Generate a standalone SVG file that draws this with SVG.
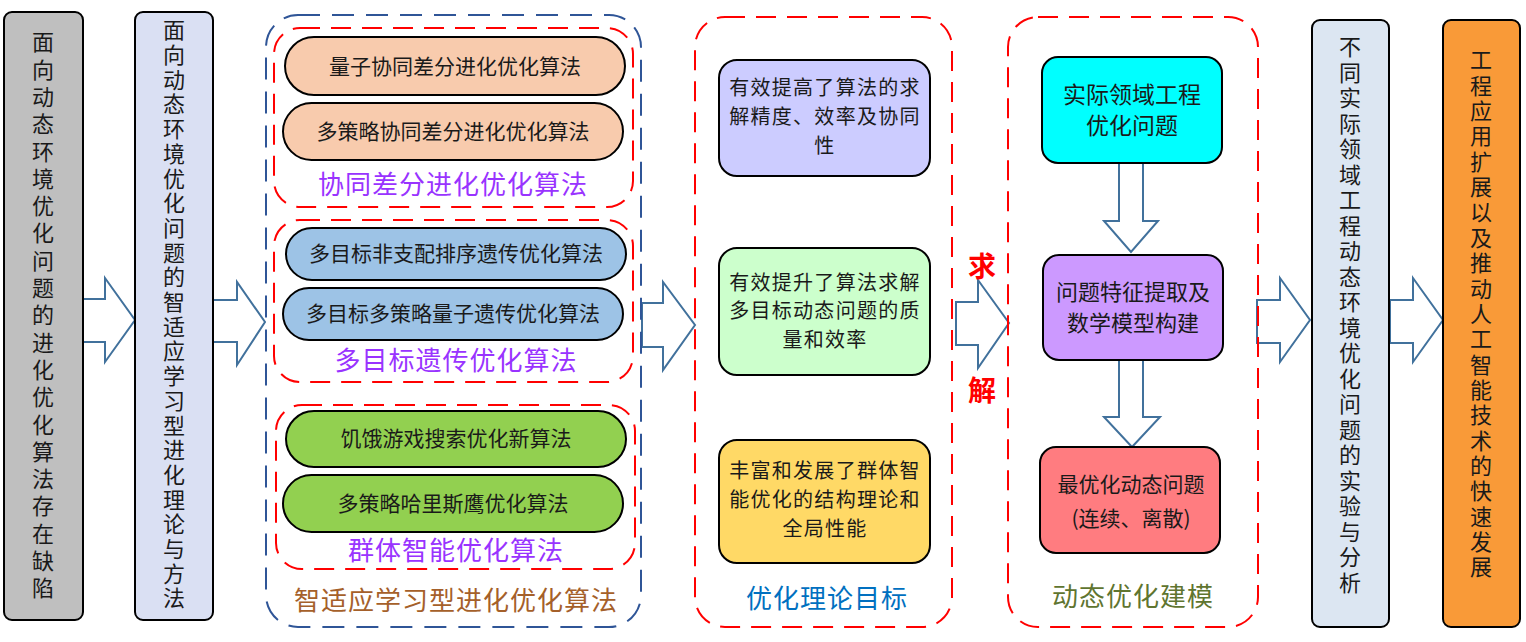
<svg xmlns="http://www.w3.org/2000/svg" width="1526" height="642" viewBox="0 0 1526 642">
<defs>
<style>
text{font-family:"Noto Sans CJK SC","Liberation Sans",sans-serif;fill:#1a1a1a;}
.box{stroke:#000;stroke-width:2;}
.vt{font-size:22px;writing-mode:tb;text-orientation:upright;}
.pill{stroke:#000;stroke-width:2;}
.pt{font-size:21px;text-anchor:middle;}
.gt{font-size:20px;text-anchor:middle;letter-spacing:1.3px;}
.red{fill:none;stroke:#ff0000;stroke-width:2;stroke-dasharray:20 11;}
.blue{fill:none;stroke:#2f5597;stroke-width:2;stroke-dasharray:22 12;}
.arr{fill:#fff;stroke:#41719c;stroke-width:2;stroke-linejoin:miter;}
.lbl{font-size:26px;text-anchor:middle;letter-spacing:1px;}
</style>
</defs>

<g id="connectors">
<polygon class="arr" points="83,299 105,299 105,278 135,320 105,362 105,342 83,342"/>
<polygon class="arr" points="213,300 237,300 237,282 265,322 237,365 237,342 213,342"/>
<polygon class="arr" points="642,303 663,303 663,282 695,325 663,370 663,347 642,347"/>
<polygon class="arr" points="956,302 978,302 978,280 1009,323 978,368 978,345 956,345"/>
<polygon class="arr" points="1119,163 1143,163 1143,221 1158,221 1131,252 1104,221 1119,221"/>
<polygon class="arr" points="1119,360 1143,360 1143,417 1160,417 1132,447 1104,417 1119,417"/>
<polygon class="arr" points="1257,300 1280,300 1280,278 1310,320 1280,362 1280,343 1257,343"/>
<polygon class="arr" points="1390,300 1413,300 1413,278 1443,320 1413,362 1413,343 1390,343"/>
</g>

<g id="n1">
<rect class="box" x="4" y="12" width="79" height="608" rx="8" fill="#bfbfbf"/>
<text class="vt" x="43" y="31" style="letter-spacing:5.3px">面向动态环境优化问题的进化优化算法存在缺陷</text>
</g>

<g id="n2">
<rect class="box" x="135" y="12" width="78" height="608" rx="8" fill="#dae0f3"/>
<text class="vt" x="174" y="19" style="letter-spacing:2.7px">面向动态环境优化问题的智适应学习型进化理论与方法</text>
</g>

<g id="algo-group">
<rect class="blue" x="266" y="15" width="375" height="612" rx="32"/>
<text class="lbl" x="456" y="610" style="fill:#a5602a">智适应学习型进化优化算法</text>
</g>

<g id="de-group">
<rect class="red" x="274" y="28" width="359" height="179" rx="26"/>
<rect class="pill" x="285" y="37" width="340" height="58" rx="29" fill="#f8cbad"/>
<text class="pt" x="455" y="74">量子协同差分进化优化算法</text>
<rect class="pill" x="283" y="103" width="340" height="57" rx="28.5" fill="#f8cbad"/>
<text class="pt" x="453" y="139">多策略协同差分进化优化算法</text>
<text class="lbl" x="453" y="194" style="fill:#9933ff">协同差分进化优化算法</text>
</g>

<g id="ga-group">
<rect class="red" x="274" y="220" width="359" height="162" rx="26"/>
<rect class="pill" x="286" y="228" width="340" height="52" rx="26" fill="#9dc3e6"/>
<text class="pt" x="456" y="261">多目标非支配排序遗传优化算法</text>
<rect class="pill" x="283" y="288" width="340" height="52" rx="26" fill="#9dc3e6"/>
<text class="pt" x="453" y="321">多目标多策略量子遗传优化算法</text>
<text class="lbl" x="456" y="370" style="fill:#9933ff">多目标遗传优化算法</text>
</g>

<g id="si-group">
<rect class="red" x="276" y="405" width="359" height="164" rx="26"/>
<rect class="pill" x="286" y="411" width="340" height="56" rx="28" fill="#92d050"/>
<text class="pt" x="456" y="446">饥饿游戏搜索优化新算法</text>
<rect class="pill" x="283" y="475" width="340" height="57" rx="28.5" fill="#92d050"/>
<text class="pt" x="453" y="511">多策略哈里斯鹰优化算法</text>
<text class="lbl" x="456" y="560" style="fill:#9933ff">群体智能优化算法</text>
</g>

<g id="goals">
<rect class="red" x="695" y="17" width="257" height="610" rx="30"/>
<text class="lbl" x="827" y="608" style="fill:#0070c0">优化理论目标</text>
</g>
<g id="g1">
<rect class="box" x="719" y="60" width="211" height="116" rx="18" fill="#ccccff"/>
<text class="gt" x="825" y="95">有效提高了算法的求</text>
<text class="gt" x="825" y="124">解精度、效率及协同</text>
<text class="gt" x="825" y="153">性</text>
</g>
<g id="g2">
<rect class="box" x="719" y="248" width="211" height="127" rx="18" fill="#ccffcc"/>
<text class="gt" x="825" y="290">有效提升了算法求解</text>
<text class="gt" x="825" y="318">多目标动态问题的质</text>
<text class="gt" x="825" y="347">量和效率</text>
</g>
<g id="g3">
<rect class="box" x="719" y="440" width="211" height="123" rx="18" fill="#ffd966"/>
<text class="gt" x="825" y="478">丰富和发展了群体智</text>
<text class="gt" x="825" y="507">能优化的结构理论和</text>
<text class="gt" x="825" y="536">全局性能</text>
</g>

<g id="solve-label">
<text x="982" y="277" style="font-size:28px;font-weight:bold;fill:#ff0000;text-anchor:middle">求</text>
<text x="982" y="401" style="font-size:28px;font-weight:bold;fill:#ff0000;text-anchor:middle">解</text>
</g>

<g id="modeling">
<rect class="red" x="1008" y="17" width="250" height="610" rx="30"/>
<text class="lbl" x="1133" y="606" style="fill:#5f7530">动态优化建模</text>
</g>
<g id="m1">
<rect class="box" x="1042" y="57" width="180" height="106" rx="16" fill="#00ffff"/>
<text x="1132" y="103" style="font-size:23px;text-anchor:middle">实际领域工程</text>
<text x="1132" y="134" style="font-size:23px;text-anchor:middle">优化问题</text>
</g>
<g id="m2">
<rect class="box" x="1043" y="255" width="180" height="105" rx="16" fill="#cc99ff"/>
<text x="1133" y="300" style="font-size:22px;text-anchor:middle">问题特征提取及</text>
<text x="1133" y="331" style="font-size:22px;text-anchor:middle">数学模型构建</text>
</g>
<g id="m3">
<rect class="box" x="1040" y="447" width="180" height="106" rx="16" fill="#ff7c80"/>
<text x="1131" y="492" style="font-size:21px;text-anchor:middle">最优化动态问题</text>
<text x="1131" y="526" style="font-size:21px;text-anchor:middle">(连续、离散)</text>
</g>

<g id="n7">
<rect class="box" x="1312" y="20" width="77" height="607" rx="8" fill="#dce6f2"/>
<text class="vt" x="1350" y="36" style="letter-spacing:3.5px">不同实际领域工程动态环境优化问题的实验与分析</text>
</g>

<g id="n8">
<rect class="box" x="1443" y="20" width="77" height="607" rx="8" fill="#f99a38"/>
<text class="vt" x="1481" y="49" style="letter-spacing:3.35px">工程应用扩展以及推动人工智能技术的快速发展</text>
</g>
</svg>
